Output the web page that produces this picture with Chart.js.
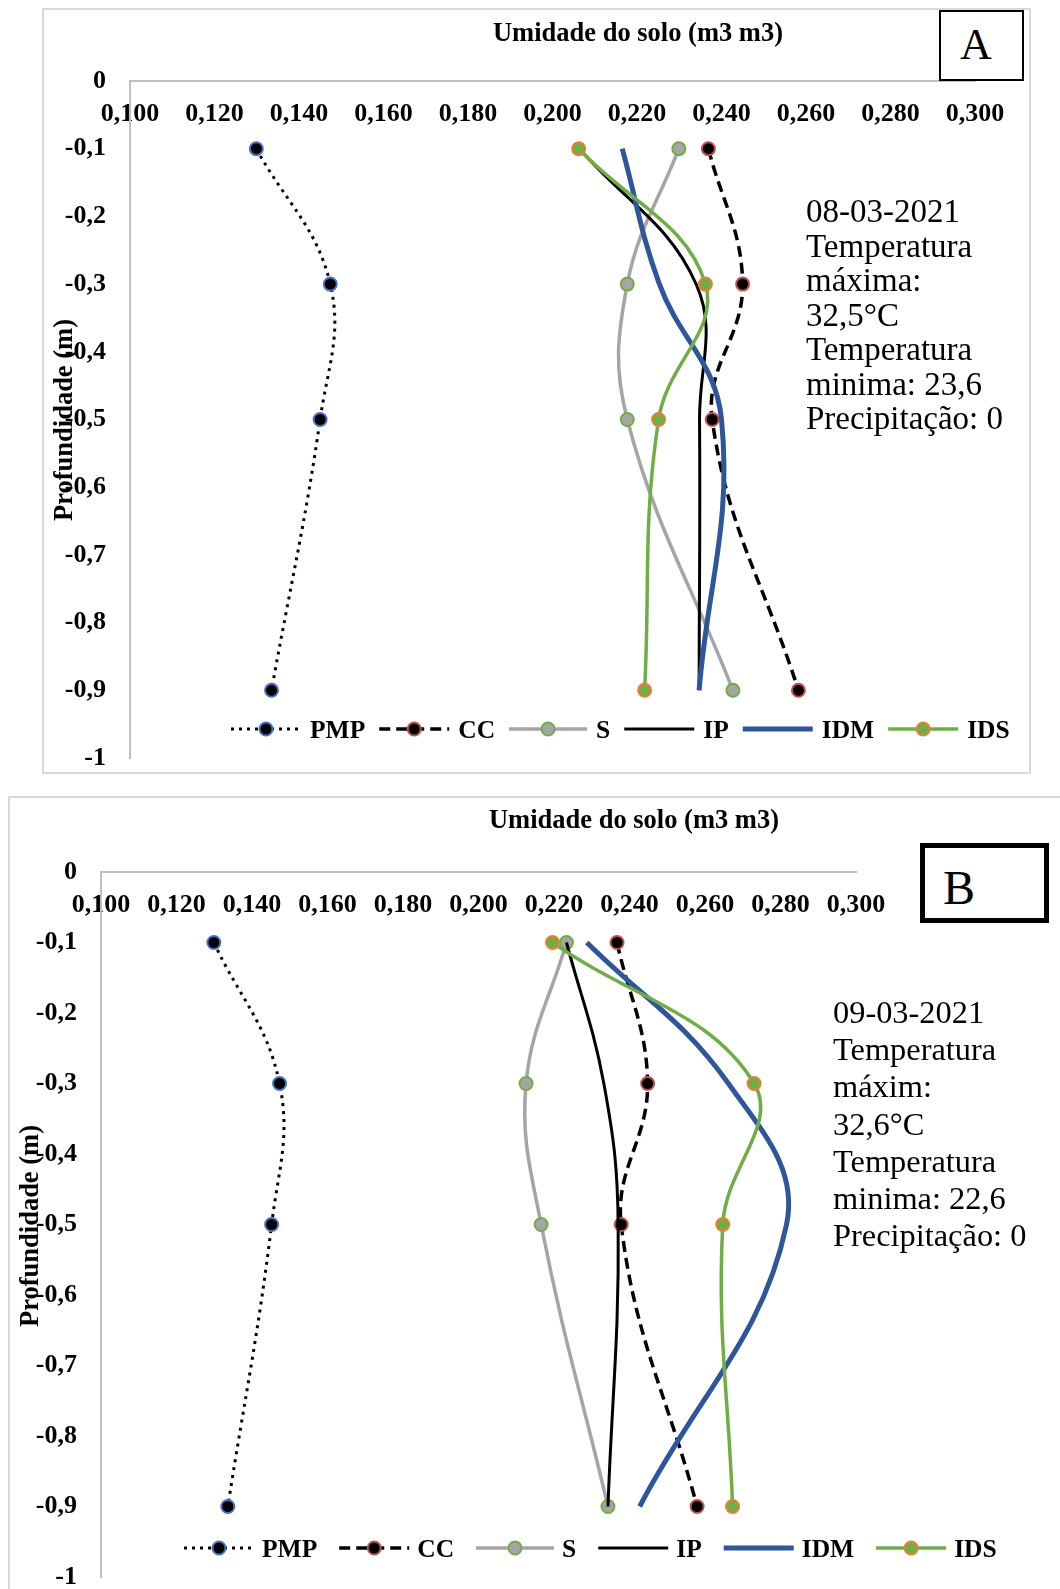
<!DOCTYPE html>
<html>
<head>
<meta charset="utf-8">
<script src="https://cdn.jsdelivr.net/npm/chart.js@4.4.1/dist/chart.umd.min.js"></script>
<style>
  html, body { margin: 0; padding: 0; background: #fff; width: 1060px; height: 1589px; overflow: hidden; position: relative; }
  .frame { position: absolute; border: 2px solid #d9d9d9; box-sizing: border-box; }
  canvas { position: absolute; }
  .axtitle { position: absolute; font: bold 26.5px "Liberation Serif", "Times New Roman", serif; color: #000;
             text-align: center; white-space: nowrap; line-height: 30px; height: 30px; width: 500px; }
  .ytitle { width: 300px; transform: rotate(-90deg); }
  .note { position: absolute; font-family: "Liberation Serif", "Times New Roman", serif; color: #000; white-space: nowrap; }
  .tag { position: absolute; background: #fff; border: 2px solid #000; box-sizing: border-box; }
  .tagtxt { position: absolute; font-family: "Liberation Serif", "Times New Roman", serif; color: #000; white-space: nowrap; }
</style>
</head>
<body>
<div class="frame" style="left:42px;top:8px;width:989px;height:766px;"></div>
<div class="frame" style="left:8px;top:796px;width:1100px;height:900px;"></div>

<canvas id="chartA" width="989" height="766" style="left:42px;top:8px;"></canvas>
<canvas id="chartB" width="1052" height="793" style="left:8px;top:796px;"></canvas>

<div class="axtitle" style="left:388px;top:17px;">Umidade do solo (m3 m3)</div>
<div class="axtitle" style="left:384px;top:804px;">Umidade do solo (m3 m3)</div>
<div class="axtitle ytitle" style="left:-87px;top:405px;">Profundidade (m)</div>
<div class="axtitle ytitle" style="left:-121px;top:1211px;">Profundidade (m)</div>

<div class="note" style="left:806px;top:194px;font-size:33px;line-height:34.5px;">08-03-2021<br>Temperatura<br>máxima:<br>32,5°C<br>Temperatura<br>minima: 23,6<br>Precipitação: 0</div>
<div class="note" style="left:833px;top:994px;font-size:32.4px;line-height:37.2px;">09-03-2021<br>Temperatura<br>máxim:<br>32,6°C<br>Temperatura<br>minima: 22,6<br>Precipitação: 0</div>

<div class="tag" style="left:939px;top:10px;width:85px;height:71px;"></div>
<div class="tagtxt" style="left:960px;top:23px;font-size:44px;line-height:44px;">A</div>
<div class="tag" style="left:920px;top:843px;width:129px;height:80px;border-width:5px;"></div>
<div class="tagtxt" style="left:943px;top:864px;font-size:48px;line-height:48px;">B</div>

<script>
// depths (m) and series names
const depths = [-0.1, -0.3, -0.5, -0.9];
const seriesNames = ['PMP', 'CC', 'S', 'IP', 'IDM', 'IDS'];
const xTickLabels = ['0,100', '0,120', '0,140', '0,160', '0,180', '0,200', '0,220', '0,240', '0,260', '0,280', '0,300'];
const yTickLabels = ['0', '-0,1', '-0,2', '-0,3', '-0,4', '-0,5', '-0,6', '-0,7', '-0,8', '-0,9', '-1'];

// A: 08-03-2021
const pmpA = [0.1299, 0.1474, 0.1450, 0.1335];
const ccA = [0.2369, 0.2450, 0.2378, 0.2582];
const sA = [0.2299, 0.2177, 0.2177, 0.2427];
const ipA = [0.2064, 0.2340, 0.2348, 0.2347];
const idmA = [0.2165, 0.2253, 0.2400, 0.2347];
const idsA = [0.2062, 0.2362, 0.2251, 0.2218];

// B: 09-03-2021
const pmpB = [0.1299, 0.1473, 0.1452, 0.1336];
const ccB = [0.2367, 0.2448, 0.2378, 0.2579];
const sB = [0.2233, 0.2126, 0.2166, 0.2343];
const ipB = [0.2233, 0.2332, 0.2370, 0.2343];
const idmB = [0.2287, 0.2662, 0.2816, 0.2427];
const idsB = [0.2196, 0.2730, 0.2647, 0.2673];

const styles = {
  PMP: { color: '#000', width: 3, dash: [3, 5], radius: 6.5, fill: '#000', edge: '#4472c4', key: 70 },
  CC:  { color: '#000', width: 3.5, dash: [11, 6], radius: 6.5, fill: '#000', edge: '#c0504d', key: 70 },
  S:   { color: '#a5a5a5', width: 3.5, dash: [], radius: 6.5, fill: '#a5a5a5', edge: '#70ad47', key: 78 },
  IP:  { color: '#000', width: 3, dash: [], radius: 0, key: 70 },
  IDM: { color: '#2f559b', width: 5, dash: [], radius: 0, key: 70 },
  IDS: { color: '#70ad47', width: 3.5, dash: [], radius: 6.5, fill: '#70ad47', edge: '#ed7d31', key: 70 }
};

const serif = '"Liberation Serif", "Times New Roman", serif';
const tickFont = { family: serif, size: 26, weight: 'bold' };

// legend drawn inside the plot area, line + marker + label
const inlineLegend = {
  id: 'inlineLegend',
  afterDraw(chart, args, opts) {
    const ctx = chart.ctx;
    ctx.save();
    ctx.font = 'bold 25.5px ' + serif;
    ctx.textBaseline = 'middle';
    let x = opts.x;
    const y = opts.y;
    chart.data.datasets.forEach(ds => {
      const len = styles[ds.label].key;
      ctx.setLineDash(ds.borderDash);
      ctx.strokeStyle = ds.borderColor;
      ctx.lineWidth = ds.borderWidth;
      ctx.beginPath();
      ctx.moveTo(x, y);
      ctx.lineTo(x + len, y);
      ctx.stroke();
      ctx.setLineDash([]);
      if (ds.pointRadius > 0) {
        ctx.beginPath();
        ctx.arc(x + len / 2, y, ds.pointRadius, 0, Math.PI * 2);
        ctx.fillStyle = ds.pointBackgroundColor;
        ctx.fill();
        ctx.lineWidth = ds.pointBorderWidth;
        ctx.strokeStyle = ds.pointBorderColor;
        ctx.stroke();
      }
      x += len + opts.textGap;
      ctx.fillStyle = '#000';
      ctx.fillText(ds.label, x, y + 2);
      x += ctx.measureText(ds.label).width + opts.itemGap;
    });
    ctx.restore();
  }
};

function buildChart(id, series, geo) {
  const datasets = seriesNames.map((name, i) => {
    const st = styles[name];
    return {
      label: name,
      data: depths.map((d, k) => ({ x: series[i][k], y: d })),
      showLine: true,
      tension: 0.4,
      borderColor: st.color,
      borderWidth: st.width,
      borderDash: st.dash,
      pointRadius: st.radius,
      pointBackgroundColor: st.fill || st.color,
      pointBorderColor: st.edge || st.color,
      pointBorderWidth: 2,
      clip: false,
      order: seriesNames.length - i
    };
  });

  return new Chart(document.getElementById(id), {
    type: 'scatter',
    data: { datasets },
    options: {
      responsive: false,
      animation: false,
      events: [],
      layout: { padding: { top: geo.top, right: geo.right, bottom: geo.bottom, left: 0 } },
      plugins: {
        legend: { display: false },
        tooltip: { enabled: false },
        inlineLegend: geo.legend
      },
      scales: {
        x: {
          type: 'linear',
          position: { y: 0 },
          min: 0.1,
          max: 0.3,
          grid: { display: false, drawTicks: false },
          border: { display: true, color: '#bfbfbf', width: 2 },
          ticks: {
            stepSize: 0.02, autoSkip: false, maxRotation: 0, padding: 17.5,
            color: '#000', font: tickFont,
            callback: v => xTickLabels[Math.round((v - 0.1) / 0.02)]
          },
          afterFit: s => { s.height = 0; s.paddingLeft = 0; s.paddingRight = 0; }
        },
        y: {
          type: 'linear',
          position: 'left',
          min: -1,
          max: 0,
          grid: { display: false, drawTicks: false },
          border: { display: true, color: '#bfbfbf', width: 2 },
          ticks: {
            stepSize: 0.1, autoSkip: false, padding: geo.yPad,
            color: '#000', font: tickFont,
            callback: v => yTickLabels[Math.round(-v * 10)]
          },
          afterFit: s => { s.width = geo.left; s.paddingTop = 0; s.paddingBottom = 0; }
        }
      }
    },
    plugins: [inlineLegend]
  });
}

buildChart('chartA', [pmpA, ccA, sA, ipA, idmA, idsA], {
  left: 88, top: 73, right: 56, bottom: 16, yPad: 24,
  legend: { x: 189, y: 721, textGap: 9, itemGap: 14 }
});

buildChart('chartB', [pmpB, ccB, sB, ipB, idmB, idsB], {
  left: 93, top: 76, right: 204, bottom: 12, yPad: 24,
  legend: { x: 176, y: 752, textGap: 8, itemGap: 22 }
});
</script>
</body>
</html>
